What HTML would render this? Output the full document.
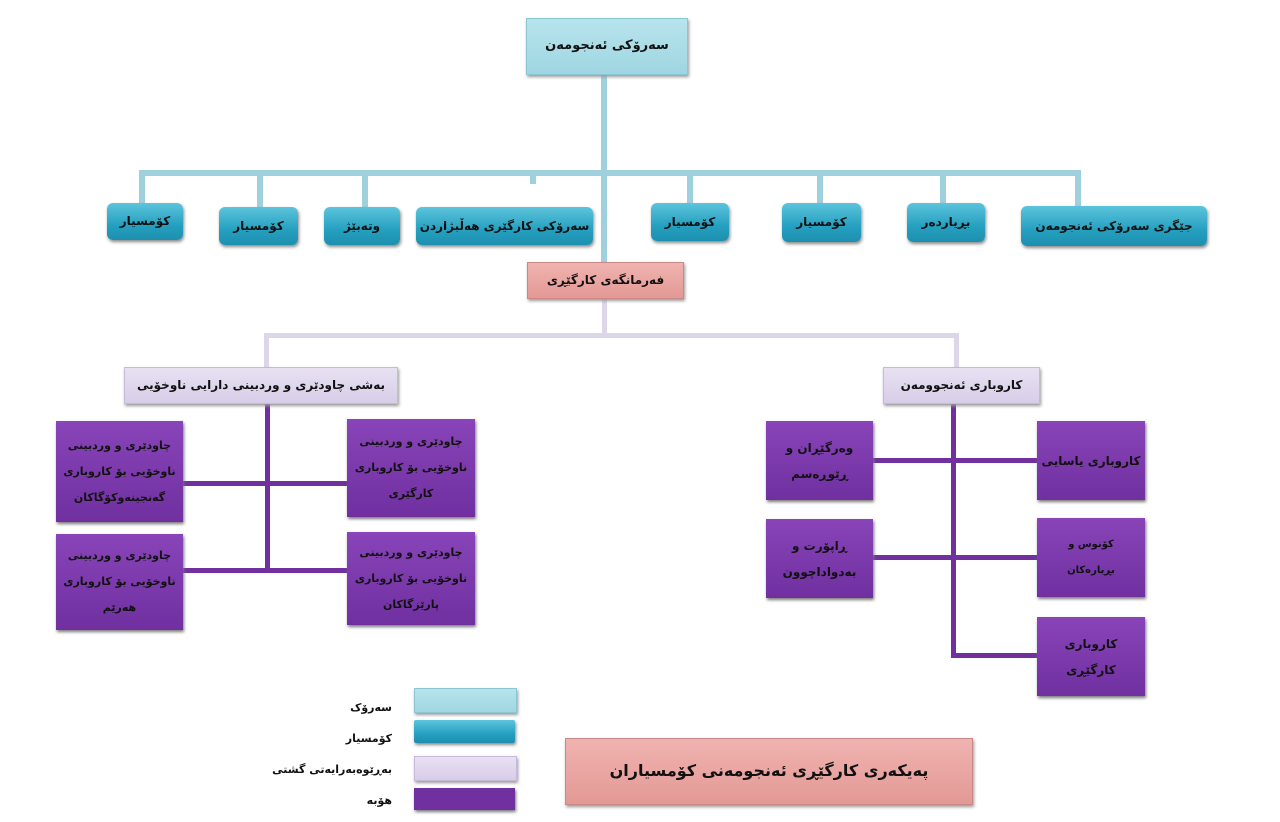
<!DOCTYPE html>
<html><head><meta charset="utf-8"><style>
body{margin:0;width:1280px;height:822px;background:#fff;position:relative;overflow:hidden;font-family:"DejaVu Sans","Liberation Sans",sans-serif;font-weight:bold;color:#111}
.b{position:absolute;display:flex;align-items:center;justify-content:center;text-align:center;box-sizing:border-box;direction:rtl;font-size:12px;line-height:1.9}
.lb{background:linear-gradient(#b7e4ec,#9fd6e2);border:1px solid #8cc6d3;box-shadow:1px 2px 3px #999}
.tl{background:linear-gradient(#5cc4dc,#25a0c0 60%,#1d8fae);border-radius:6px;box-shadow:1px 2px 3px #888}
.pk{background:linear-gradient(#f0b3b0,#e39995);border:1px solid #c98a87;box-shadow:1px 2px 3px #999}
.lv{background:linear-gradient(#e8e1f2,#d8cde8);border:1px solid #c7b9dc;box-shadow:1px 2px 3px #999}
.pp{background:linear-gradient(#8844b8,#7030a0);box-shadow:1px 2px 3px #777;font-size:11px;line-height:26px;padding:0 2px;white-space:nowrap;letter-spacing:-0.2px}
.l{position:absolute}
.c1{background:#9fd0de}.c2{background:#dcd6e8}.c3{background:#7030a0}
.lg{position:absolute;font-size:11px;direction:rtl;text-align:right;width:100px}
</style></head><body>
<div class="l c1" style="left:601px;top:75px;width:6px;height:188px"></div>
<div class="l c1" style="left:139px;top:170px;width:942px;height:6px"></div>
<div class="l c1" style="left:139px;top:170px;width:6px;height:36px"></div>
<div class="l c1" style="left:257px;top:170px;width:6px;height:38px"></div>
<div class="l c1" style="left:362px;top:170px;width:6px;height:38px"></div>
<div class="l c1" style="left:530px;top:170px;width:6px;height:14px"></div>
<div class="l c1" style="left:687px;top:170px;width:6px;height:34px"></div>
<div class="l c1" style="left:817px;top:170px;width:6px;height:34px"></div>
<div class="l c1" style="left:940px;top:170px;width:6px;height:34px"></div>
<div class="l c1" style="left:1075px;top:170px;width:6px;height:37px"></div>
<div class="l c2" style="left:602px;top:299px;width:5px;height:37px"></div>
<div class="l c2" style="left:264px;top:333px;width:695px;height:5px"></div>
<div class="l c2" style="left:264px;top:333px;width:5px;height:35px"></div>
<div class="l c2" style="left:954px;top:333px;width:5px;height:35px"></div>
<div class="l c3" style="left:265px;top:404px;width:5px;height:168px"></div>
<div class="l c3" style="left:183px;top:481px;width:165px;height:5px"></div>
<div class="l c3" style="left:183px;top:568px;width:165px;height:5px"></div>
<div class="l c3" style="left:951px;top:404px;width:5px;height:254px"></div>
<div class="l c3" style="left:873px;top:458px;width:165px;height:5px"></div>
<div class="l c3" style="left:873px;top:555px;width:165px;height:5px"></div>
<div class="l c3" style="left:951px;top:653px;width:87px;height:5px"></div>

<div class="b lb" style="left:526px;top:18px;width:162px;height:57px;font-size:13px">سەرۆکی ئەنجومەن</div>

<div class="b tl" style="left:107px;top:203px;width:76px;height:37px">کۆمسیار</div>
<div class="b tl" style="left:219px;top:207px;width:79px;height:38px">کۆمسیار</div>
<div class="b tl" style="left:324px;top:207px;width:76px;height:38px">وتەبێژ</div>
<div class="b tl" style="left:416px;top:207px;width:177px;height:38px">سەرۆکی کارگێری هەڵبژاردن</div>
<div class="b tl" style="left:651px;top:203px;width:78px;height:38px">کۆمسیار</div>
<div class="b tl" style="left:782px;top:203px;width:79px;height:39px">کۆمسیار</div>
<div class="b tl" style="left:907px;top:203px;width:78px;height:39px">بڕیاردەر</div>
<div class="b tl" style="left:1021px;top:206px;width:186px;height:40px">جێگری سەرۆکی ئەنجومەن</div>

<div class="b pk" style="left:527px;top:262px;width:157px;height:37px">فەرمانگەی کارگێڕی</div>

<div class="b lv" style="left:124px;top:367px;width:274px;height:37px">بەشی چاودێری و وردبینی دارایی ناوخۆیی</div>
<div class="b lv" style="left:883px;top:367px;width:157px;height:37px">کاروباری ئەنجوومەن</div>

<div class="b pp" style="left:56px;top:421px;width:127px;height:101px">چاودێری و وردبینی<br>ناوخۆیی بۆ کاروباری<br>گەنجینەوکۆگاکان</div>
<div class="b pp" style="left:347px;top:419px;width:128px;height:98px">چاودێری و وردبینی<br>ناوخۆیی بۆ کاروباری<br>کارگێری</div>
<div class="b pp" style="left:56px;top:534px;width:127px;height:96px">چاودێری و وردبینی<br>ناوخۆیی بۆ کاروباری<br>هەرێم</div>
<div class="b pp" style="left:347px;top:532px;width:128px;height:93px">چاودێری و وردبینی<br>ناوخۆیی بۆ کاروباری<br>پارێزگاکان</div>

<div class="b pp" style="left:766px;top:421px;width:107px;height:79px;font-size:12px">وەرگێڕان و<br>ڕێوڕەسم</div>
<div class="b pp" style="left:766px;top:519px;width:107px;height:79px;font-size:12px">ڕاپۆرت و<br>بەدواداچوون</div>
<div class="b pp" style="left:1037px;top:421px;width:108px;height:79px;font-size:12px">کاروباری یاسایی</div>
<div class="b pp" style="left:1037px;top:518px;width:108px;height:79px;font-size:10px">کۆنوس و<br>بڕیارەکان</div>
<div class="b pp" style="left:1037px;top:617px;width:108px;height:79px;font-size:12px">کاروباری<br>کارگێڕی</div>

<div class="l lb" style="left:414px;top:688px;width:101px;height:23px"></div>
<div class="l tl" style="left:414px;top:720px;width:101px;height:23px;border-radius:2px"></div>
<div class="l lv" style="left:414px;top:756px;width:101px;height:23px"></div>
<div class="l" style="left:414px;top:788px;width:101px;height:22px;background:#7030a0;box-shadow:1px 2px 3px #777"></div>
<div class="lg" style="left:292px;top:701px">سەرۆک</div>
<div class="lg" style="left:292px;top:732px">کۆمسیار</div>
<div class="lg" style="left:262px;top:763px;width:130px">بەڕێوەبەرایەتی گشتی</div>
<div class="lg" style="left:292px;top:794px">هۆبە</div>

<div class="b pk" style="left:565px;top:738px;width:408px;height:67px;font-size:16px">پەیکەری کارگێڕی ئەنجومەنی کۆمسیاران</div>
</body></html>
